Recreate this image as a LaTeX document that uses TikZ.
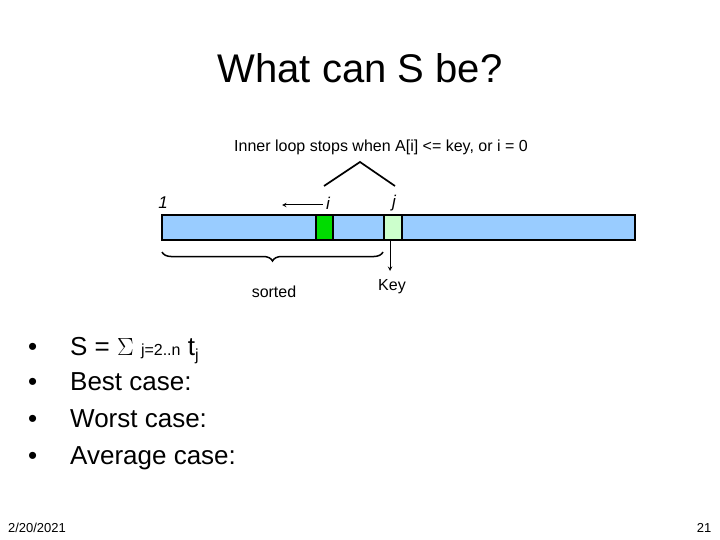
\documentclass[tikz,border=0pt]{standalone}
\usepackage{fontspec}
\setmainfont{Liberation Sans}
\usetikzlibrary{decorations.pathreplacing}
\begin{document}
\begin{tikzpicture}[x=1pt,y=-1pt,
  cell/.style={draw=black,line width=2.5pt},
  lbl/.style={inner sep=0pt,anchor=base west}]
\useasboundingbox (0,0) rectangle (720,540);
\node[inner sep=0pt] (title) at (360,68) {\fontsize{40}{48}\selectfont What can S be?};
\node[inner sep=0pt] (cond) at (381,147) {\fontsize{16}{19}\selectfont Inner loop stops when A[i] <= key, or i = 0};
\filldraw[cell,fill=blue!35!cyan!25!white,fill={rgb,255:red,153;green,204;blue,255}] (162,215) rectangle (635,240);
\filldraw[cell,fill={rgb,255:red,0;green,220;blue,0}] (316,215) rectangle (333,240);
\filldraw[cell,fill={rgb,255:red,204;green,255;blue,204}] (384,215) rectangle (402,240);
\node[inner sep=0pt] (one) at (163,203) {\fontsize{17}{20}\selectfont\itshape 1};
\node[inner sep=0pt] (i) at (328,203) {\fontsize{17}{20}\selectfont\itshape i};
\node[inner sep=0pt] (j) at (394,203) {\fontsize{17}{20}\selectfont\itshape j};
\coordinate (arrEnd) at (282,205);
\draw[-stealth,line width=1pt] (i.west) ++(-3,2) -- (arrEnd);
\coordinate (c1) at (324,186);\coordinate (c2) at (360,162);\coordinate (c3) at (395,186);
\draw[line width=1.7pt] (c1) -- (c2) -- (c3);
\coordinate (b1) at (162,252);\coordinate (b2) at (383,252);
\draw[decorate,decoration={brace,mirror,amplitude=9pt},line width=1.5pt] (b1) -- (b2);
\node[inner sep=0pt] (sorted) at (274,292) {\fontsize{16}{19}\selectfont sorted};
\coordinate (k1) at (390,241);
\node[inner sep=0pt] (key) at (392,287) {\fontsize{16}{19}\selectfont Key};
\draw[-stealth,line width=1pt] (k1) -- (390,271);
\foreach \y/\t [count=\n] in {355/{S = $\Sigma$ {\fontsize{16}{19}\selectfont j=2..n} t\raisebox{-5pt}{\fontsize{16}{19}\selectfont j}},390/Best case:,427/Worst case:,464/Average case:}{
  \node[lbl] (bul\n) at (28,\y) {\fontsize{26}{30}\selectfont •};
  \node[lbl] (item\n) at (70,\y) {\fontsize{26}{30}\selectfont \t};
}
\node[inner sep=0pt] (date) at (37,528) {\fontsize{13}{15}\selectfont 2/20/2021};
\node[inner sep=0pt] (pg) at (704,528) {\fontsize{13}{15}\selectfont 21};
\end{tikzpicture}
\end{document}
